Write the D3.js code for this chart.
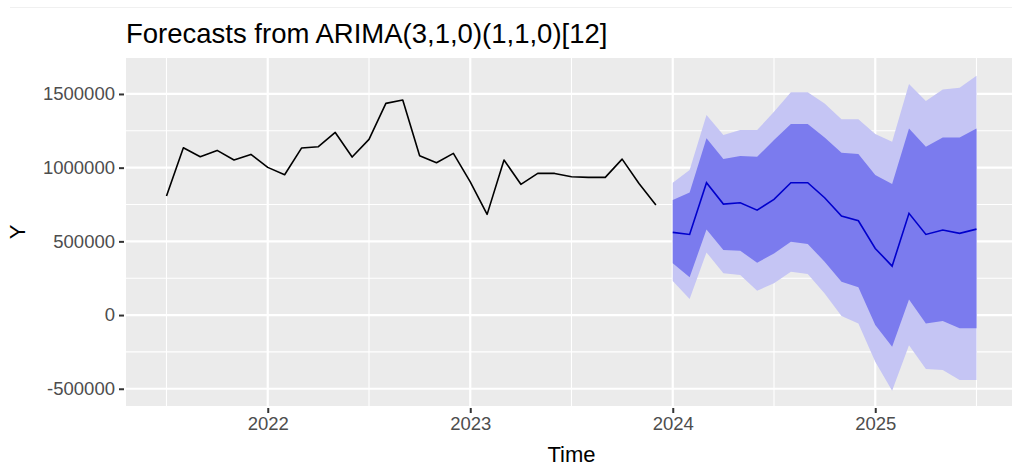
<!DOCTYPE html>
<html>
<head>
<meta charset="utf-8">
<script src="https://cdn.jsdelivr.net/npm/d3@7"></script>
<style>
  body { margin: 0; background: #fff; }
  text { font-family: "Liberation Sans", Arial, sans-serif; }
</style>
</head>
<body>
<script>
// observed series, monthly from Jul 2021 to Dec 2023
var obs_start = 2021.5;
var observed = [807000, 1135000, 1074000, 1117000, 1052000, 1090000,
  1002000, 952000, 1133000, 1142000, 1239000, 1072000, 1192000, 1436000, 1459000, 1081000, 1033000, 1097000,
  904000, 683000, 1052000, 887000, 961000, 961000, 938000, 934000, 934000, 1058000, 893000, 746000];

// forecast, monthly from Jan 2024 to Jul 2025
var fc_start = 2024;
var fc_mean = [561000, 547000, 898000, 753000, 762000, 712000, 785000, 898000, 898000, 796000, 672000, 640000,
  452000, 332000, 690000, 547000, 577000, 554000, 583000];
var lo80 = [351000, 256000, 581000, 441000, 436000, 355000, 418000, 497000, 482000, 362000, 226000, 188000,
  -68000, -215000, 106000, -57000, -41000, -90000, -90000];
var hi80 = [780000, 832000, 1199000, 1058000, 1079000, 1074000, 1187000, 1296000, 1296000, 1205000, 1101000, 1092000,
  950000, 889000, 1266000, 1142000, 1205000, 1205000, 1266000];
var lo95 = [231000, 109000, 425000, 283000, 271000, 165000, 215000, 294000, 278000, 147000, -7000, -57000,
  -317000, -513000, -204000, -366000, -373000, -441000, -441000];
var hi95 = [898000, 984000, 1357000, 1221000, 1255000, 1255000, 1379000, 1511000, 1511000, 1436000, 1328000, 1328000,
  1228000, 1176000, 1567000, 1452000, 1531000, 1542000, 1623000];

var x_ticks = [2022, 2023, 2024, 2025];
var x_minor = [2021.5, 2022.5, 2023.5, 2024.5, 2025.5];
var y_ticks = [-500000, 0, 500000, 1000000, 1500000];
var y_minor = [-250000, 250000, 750000, 1250000];

var W = 1012, H = 474;
var pleft = 126, pright = 1017, ptop = 58, pbottom = 406;

var svg = d3.select('body').append('svg').attr('width', W).attr('height', H);

var x = d3.scaleLinear().domain([2021.3, 2025.7]).range([pleft, pright]);
var y = d3.scaleLinear().domain([-617000, 1744000]).range([pbottom, ptop]);

// faint line at top of the image
svg.append('line').attr('x1', 10).attr('x2', W).attr('y1', 7.5).attr('y2', 7.5)
  .attr('stroke', '#f0f0f0').attr('stroke-width', 1);

// panel
svg.append('rect').attr('x', pleft).attr('y', ptop).attr('width', pright - pleft).attr('height', pbottom - ptop)
  .attr('fill', '#ebebeb');

var grid = svg.append('g');
grid.selectAll('.ymin').data(y_minor).enter().append('line')
  .attr('x1', pleft).attr('x2', pright).attr('y1', d => y(d)).attr('y2', d => y(d))
  .attr('stroke', '#fff').attr('stroke-width', 1.1);
grid.selectAll('.xmin').data(x_minor).enter().append('line')
  .attr('y1', ptop).attr('y2', pbottom).attr('x1', d => x(d)).attr('x2', d => x(d))
  .attr('stroke', '#fff').attr('stroke-width', 1.1);
grid.selectAll('.ymaj').data(y_ticks).enter().append('line')
  .attr('x1', pleft).attr('x2', pright).attr('y1', d => y(d)).attr('y2', d => y(d))
  .attr('stroke', '#fff').attr('stroke-width', 2.2);
grid.selectAll('.xmaj').data(x_ticks).enter().append('line')
  .attr('y1', ptop).attr('y2', pbottom).attr('x1', d => x(d)).attr('x2', d => x(d))
  .attr('stroke', '#fff').attr('stroke-width', 2.2);

// forecast bands
var fc = fc_mean.map((d, i) => ({t: fc_start + i / 12, mean: d, lo80: lo80[i], hi80: hi80[i], lo95: lo95[i], hi95: hi95[i]}));
var area95 = d3.area().x(d => x(d.t)).y0(d => y(d.lo95)).y1(d => y(d.hi95));
var area80 = d3.area().x(d => x(d.t)).y0(d => y(d.lo80)).y1(d => y(d.hi80));
svg.append('path').datum(fc).attr('d', area95).attr('fill', '#c5c5f4');
svg.append('path').datum(fc).attr('d', area80).attr('fill', '#7b7bee');

var line = d3.line().x(d => x(d.t)).y(d => y(d.v));
svg.append('path').datum(fc.map(d => ({t: d.t, v: d.mean})))
  .attr('d', line).attr('fill', 'none').attr('stroke', '#0000cc').attr('stroke-width', 1.6);

svg.append('path').datum(observed.map((v, i) => ({t: obs_start + i / 12, v: v})))
  .attr('d', line).attr('fill', 'none').attr('stroke', '#000').attr('stroke-width', 1.6)
  .attr('stroke-linejoin', 'round');

// axes
var yAxis = d3.axisLeft(y).tickValues(y_ticks).tickSize(5).tickPadding(4).tickFormat(d3.format('d'));
var gy = svg.append('g').attr('transform', 'translate(' + (pleft - 2) + ',0)').call(yAxis);
gy.select('.domain').remove();
gy.selectAll('line').attr('stroke', '#333').attr('stroke-width', 2);
gy.selectAll('text').attr('font-size', '18.5px').attr('fill', '#4d4d4d')
  .text(d => d < 0 ? '-' + Math.abs(d) : d);

var xAxis = d3.axisBottom(x).tickValues(x_ticks).tickSize(5).tickPadding(4).tickFormat(d3.format('d'));
var gx = svg.append('g').attr('transform', 'translate(0,' + (pbottom + 2) + ')').call(xAxis);
gx.select('.domain').remove();
gx.selectAll('line').attr('stroke', '#333').attr('stroke-width', 2);
gx.selectAll('text').attr('font-size', '18.5px').attr('fill', '#4d4d4d');

// labels
svg.append('text').text('Forecasts from ARIMA(3,1,0)(1,1,0)[12]')
  .attr('x', pleft).attr('y', 43).attr('font-size', '27.5px').attr('fill', '#000');
svg.append('text').text('Time')
  .attr('x', (pleft + pright) / 2).attr('y', 462).attr('text-anchor', 'middle').attr('font-size', '22px').attr('fill', '#000');
svg.append('text').text('Y')
  .attr('transform', 'translate(25,' + ((ptop + pbottom) / 2) + ') rotate(-90)')
  .attr('text-anchor', 'middle').attr('font-size', '22px').attr('fill', '#000');
</script>
</body>
</html>
